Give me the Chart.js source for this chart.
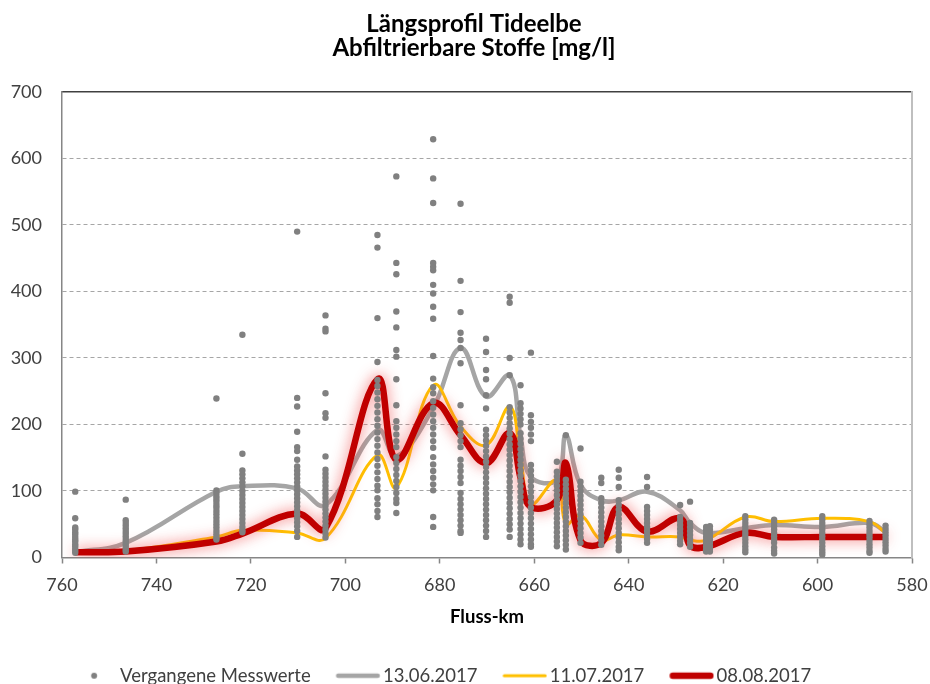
<!DOCTYPE html>
<html>
<head>
<meta charset="utf-8">
<script src="https://cdn.jsdelivr.net/npm/chart.js"></script>
<style>
  html, body { margin: 0; padding: 0; background: #fff; }
</style>
</head>
<body>
<canvas id="tideChart" width="930" height="684"></canvas>
<script>
// Längsprofil Tideelbe - Abfiltrierbare Stoffe [mg/l]

// past measurements, one column per station (Fluss-km)
const messKm = [757.2, 746.5, 727.3, 721.8, 710.2, 704.2, 693.2, 689.2, 681.4, 675.6,
    670.2, 665.2, 662.9, 660.7, 655.2, 653.3, 650.2, 645.8, 642.1, 636.1,
    629.1, 627.0, 623.6, 622.8, 615.3, 609.2, 599.0, 589.0, 585.6];

const messValues = [
    [99, 59, 45, 42, 38, 35, 31, 27, 24, 20, 17, 13, 10, 7],
    [87, 56, 52, 48, 44, 40, 36, 32, 28, 24, 20, 16, 12, 9],
    [239, 101, 97, 92, 88, 84, 79, 75, 70, 65, 60, 55, 50, 45, 40, 35, 30, 27],
    [335, 156, 131, 125, 119, 113, 107, 100, 94, 88, 82, 76, 70, 64, 58, 52, 46, 41, 38],
    [490, 240, 227, 189, 166, 160, 147, 137, 131, 125, 119, 113, 107, 101, 95, 89, 83, 77, 71, 65, 59, 53, 47, 40, 31],
    [364, 344, 340, 247, 217, 210, 152, 132, 126, 120, 114, 108, 102, 96, 90, 84, 78, 72, 66, 60, 54, 48, 42, 36, 30],
    [485, 466, 360, 294, 267, 258, 248, 238, 228, 218, 208, 198, 188, 178, 168, 158, 148, 138, 128, 118, 108, 101, 89, 80, 70, 61],
    [573, 443, 426, 370, 346, 312, 302, 268, 229, 205, 195, 185, 175, 166, 151, 142, 133, 124, 115, 106, 97, 88, 82, 67],
    [629, 570, 533, 443, 437, 432, 410, 397, 377, 359, 303, 269, 256, 247, 235, 225, 215, 205, 195, 185, 175, 165, 151, 140, 130, 120, 110, 101, 61, 46],
    [532, 416, 369, 338, 327, 315, 292, 229, 202, 193, 184, 175, 166, 147, 138, 130, 121, 112, 97, 88, 80, 72, 64, 56, 48, 40, 37],
    [329, 309, 282, 268, 244, 224, 192, 184, 176, 168, 160, 152, 144, 136, 128, 120, 112, 104, 96, 88, 80, 72, 64, 56, 48, 40, 31],
    [392, 383, 300, 274, 226, 218, 210, 202, 194, 186, 178, 170, 162, 154, 146, 138, 130, 122, 114, 106, 98, 90, 82, 74, 66, 58, 50, 42, 31],
    [259, 232, 224, 216, 208, 200, 187, 179, 171, 163, 155, 147, 139, 131, 123, 115, 107, 99, 91, 83, 75, 67, 59, 51, 43, 35, 27, 20],
    [308, 214, 204, 195, 185, 175, 139, 131, 123, 115, 107, 99, 91, 83, 75, 67, 59, 51, 43, 35, 27, 20, 16],
    [144, 129, 122, 115, 108, 101, 94, 87, 80, 73, 66, 59, 52, 45, 38, 31, 24, 17],
    [184, 117, 110, 103, 96, 89, 82, 75, 68, 61, 54, 47, 40, 33, 26, 19, 12],
    [164, 114, 107, 100, 93, 86, 79, 72, 65, 58, 51, 44, 37, 30, 22],
    [120, 112, 89, 82, 75, 68, 61, 54, 47, 40, 33, 26, 19],
    [132, 120, 106, 86, 79, 72, 65, 58, 51, 44, 37, 30, 23, 16, 11],
    [121, 106, 76, 70, 64, 58, 52, 46, 40, 34, 28, 22],
    [79, 61, 55, 49, 43, 37, 31, 25, 20],
    [84, 52, 46, 40, 34, 28, 22, 16],
    [46, 41, 36, 31, 26, 21, 16, 12, 9],
    [47, 42, 37, 32, 27, 22, 17, 13, 9],
    [62, 57, 52, 47, 42, 37, 32, 27, 22, 17, 12, 8],
    [57, 52, 47, 42, 37, 32, 27, 22, 15, 10, 6],
    [62, 57, 52, 47, 42, 37, 32, 27, 22, 17, 12, 8, 4],
    [55, 50, 45, 40, 35, 30, 25, 20, 15, 10, 7],
    [48, 43, 38, 33, 28, 23, 18, 13, 9]
];

// survey runs
const lineKm = [757.2, 746.5, 727.3, 721.8, 710.2, 704.2, 693.2, 689.2, 681.4, 675.6,
    670.2, 665.2, 662.9, 660.7, 655.2, 653.3, 650.2, 645.8, 642.1, 636.1,
    629.1, 627.0, 623.6, 615.3, 609.2, 599.0, 589.0, 585.6];
const juni = [8, 22, 99, 107, 104, 79, 192, 152, 225, 315, 242, 274, 182, 121, 117, 184, 109, 86, 86, 99, 71, 52, 37, 44, 49, 46, 52, 39];
const juli = [8, 10, 31, 41, 37, 29, 154, 105, 259, 197, 169, 227, 152, 80, 117, 50, 64, 26, 34, 31, 31, 26, 26, 61, 54, 59, 54, 37];
const august = [8, 9, 24, 36, 66, 44, 268, 147, 232, 184, 142, 187, 120, 76, 86, 142, 26, 22, 76, 39, 59, 18, 16, 37, 31, 31, 31, 31];

const xTicks = [760, 740, 720, 700, 680, 660, 640, 620, 600, 580];
const yTicks = [0, 100, 200, 300, 400, 500, 600, 700];

const pastPoints = [];
messKm.forEach((km, i) => messValues[i].forEach(v => pastPoints.push({ x: km, y: v })));
const toLine = vals => lineKm.map((km, i) => ({ x: km, y: vals[i] }));

// legend symbols, shifted right inside their box so the text sits close to them
function legendSymbol(draw) {
    const c = document.createElement('canvas');
    c.width = 60; c.height = 12;
    draw(c.getContext('2d'));
    return c;
}
const dotSymbol = legendSymbol(g => {
    g.fillStyle = '#808080';
    g.beginPath(); g.arc(36.25, 6, 3, 0, Math.PI * 2); g.fill();
});
const lineSymbol = (color, w) => legendSymbol(g => {
    g.strokeStyle = color; g.lineWidth = w; g.lineCap = 'round';
    g.beginPath(); g.moveTo(15.25 + w / 2, 6); g.lineTo(59.25 - w / 2, 6); g.stroke();
});

// red halo for the latest run
const glowPlugin = {
    id: 'glow',
    beforeDatasetDraw(chart, args) {
        if (args.index === 3) {
            chart.ctx.save();
            chart.ctx.shadowColor = 'rgba(240, 80, 80, 0.85)';
            chart.ctx.shadowBlur = 14;
        }
    },
    afterDatasetDraw(chart, args) {
        if (args.index === 3) chart.ctx.restore();
    }
};

// nudge title and legend like in the Excel original
const nudge = {
    id: 'nudge',
    afterLayout(chart) {
        chart.legend.top += 11; chart.legend.bottom += 11;
        chart.legend.left -= 27; chart.legend.right -= 27;
        chart.titleBlock.left += 9; chart.titleBlock.right += 9;
    }
};

Chart.defaults.font.family = 'Lato, "Open Sans", sans-serif';
Chart.defaults.color = '#404040';

new Chart(document.getElementById('tideChart'), {
    type: 'line',
    data: {
        datasets: [{
            type: 'scatter',
            label: 'Vergangene Messwerte',
            data: pastPoints,
            backgroundColor: '#808080',
            borderColor: '#808080',
            pointRadius: 3.2,
            pointBorderWidth: 0,
            order: 0
        }, {
            label: '13.06.2017',
            data: toLine(juni),
            borderColor: '#a5a5a5',
            borderWidth: 4.5,
            pointRadius: 0,
            tension: 0.4,
            order: 3
        }, {
            label: '11.07.2017',
            data: toLine(juli),
            borderColor: '#ffc000',
            borderWidth: 3,
            pointRadius: 0,
            tension: 0.4,
            order: 2
        }, {
            label: '08.08.2017',
            data: toLine(august),
            borderColor: '#c00000',
            borderWidth: 6.5,
            pointRadius: 0,
            tension: 0.4,
            order: 1
        }]
    },
    options: {
        responsive: false,
        animation: false,
        layout: { padding: 0 },
        plugins: {
            title: {
                display: true,
                text: ['Längsprofil Tideelbe', 'Abfiltrierbare Stoffe [mg/l]'],
                color: '#000',
                font: { size: 24, weight: 'bold', lineHeight: 1.02 },
                padding: { top: 11.8, bottom: 31.2 }
            },
            legend: {
                position: 'bottom',
                labels: {
                    usePointStyle: true,
                    pointStyleWidth: 46,
                    padding: 17,
                    color: '#404040',
                    font: { size: 18.5 },
                    sort: (a, b) => a.datasetIndex - b.datasetIndex,
                    generateLabels(chart) {
                        const items = Chart.defaults.plugins.legend.labels.generateLabels(chart);
                        items.forEach(it => {
                            const ds = chart.data.datasets[it.datasetIndex];
                            it.pointStyle = it.datasetIndex === 0
                                ? dotSymbol
                                : lineSymbol(ds.borderColor, ds.borderWidth);
                        });
                        return items;
                    }
                }
            },
            tooltip: { enabled: false }
        },
        scales: {
            x: {
                type: 'linear',
                position: 'bottom',
                reverse: true,
                min: 580,
                max: 760,
                afterBuildTicks(scale) { scale.ticks = xTicks.map(v => ({ value: v })); },
                afterFit(scale) {
                    scale.height = 81;
                    scale.paddingLeft = 0;
                    scale.paddingRight = 0;
                },
                grid: { drawOnChartArea: false, drawTicks: true, tickLength: 6, tickColor: '#868686', tickWidth: 1.5 },
                border: { color: '#868686', width: 1.5 },
                ticks: { padding: 11, font: { size: 18 }, color: '#404040', maxRotation: 0 },
                title: {
                    display: true,
                    text: 'Fluss-km',
                    color: '#000',
                    font: { size: 18.5, weight: 'bold' },
                    padding: { top: 10, bottom: 10 }
                }
            },
            x2: {
                type: 'linear',
                position: 'top',
                min: 0, max: 1,
                afterFit(scale) { scale.height = 0; },
                grid: { display: false },
                ticks: { display: false },
                border: { color: '#404040', width: 1.5 }
            },
            y: {
                min: 0,
                max: 700,
                afterBuildTicks(scale) { scale.ticks = yTicks.map(v => ({ value: v })); },
                afterFit(scale) { scale.width = 62; },
                grid: {
                    drawTicks: false,
                    color: c => (c.tick && (c.tick.value === 0 || c.tick.value === 700)) ? 'rgba(0,0,0,0)' : '#a6a6a6',
                    lineWidth: 1
                },
                border: { color: '#868686', width: 1.5, dash: [4, 3] },
                ticks: { padding: 20, font: { size: 18 }, color: '#404040' }
            },
            y2: {
                position: 'right',
                min: 0, max: 1,
                afterFit(scale) { scale.width = 18; },
                grid: { display: false },
                ticks: { display: false },
                border: { color: '#bfbfbf', width: 2 }
            }
        }
    },
    plugins: [glowPlugin, nudge]
});
</script>
</body>
</html>
